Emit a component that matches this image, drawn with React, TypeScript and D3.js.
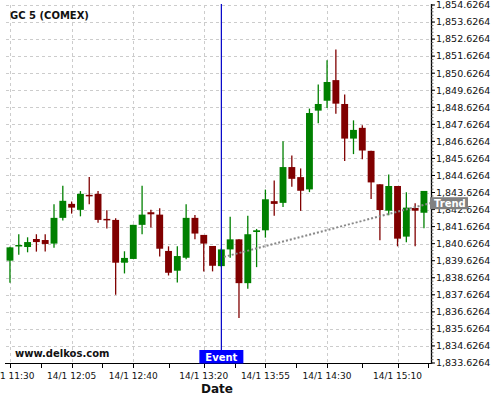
import React from "react";
import * as d3 from "d3";

// ---- data ----
const startTime = "2022-01-14T11:30:00";
const candleMinutes = 5;
const opens = [1839.63,1840.51,1840.43,1840.90,1840.84,1840.63,1842.14,1842.96,1842.61,1843.49,1843.55,1842.08,1842.02,1839.51,1839.73,1841.73,1842.47,1842.33,1840.20,1839.04,1839.80,1842.14,1841.14,1840.49,1839.31,1840.29,1840.88,1838.31,1841.31,1841.41,1843.12,1843.02,1845.12,1844.53,1843.81,1848.43,1849.01,1850.22,1848.82,1846.79,1847.42,1846.07,1844.11,1842.56,1844.01,1841.04,1842.72,1842.44];
const highs = [1840.45,1841.18,1841.00,1841.18,1841.18,1842.94,1844.02,1843.10,1843.71,1844.53,1843.71,1842.59,1842.12,1840.18,1841.73,1844.02,1842.61,1842.71,1840.47,1840.47,1842.94,1842.31,1841.14,1840.49,1840.35,1842.21,1840.88,1842.27,1841.49,1843.80,1844.33,1846.63,1845.80,1845.04,1848.55,1849.97,1851.39,1852.02,1849.38,1847.86,1847.57,1846.07,1844.11,1844.68,1844.01,1843.64,1843.00,1843.72];
const lows = [1838.33,1839.98,1840.12,1840.16,1840.16,1840.39,1841.98,1842.39,1842.23,1842.94,1841.86,1841.51,1837.63,1838.88,1839.73,1841.18,1841.57,1839.88,1838.76,1838.35,1839.71,1840.88,1839.00,1839.00,1839.25,1839.80,1836.27,1837.98,1839.25,1840.98,1842.27,1842.78,1843.96,1842.55,1843.65,1847.69,1848.59,1848.25,1845.47,1845.88,1845.58,1843.24,1840.83,1842.29,1840.47,1840.71,1840.47,1841.53];
const closes = [1840.41,1840.55,1840.72,1840.72,1840.61,1842.14,1843.14,1842.74,1843.55,1843.45,1842.02,1842.04,1839.51,1839.79,1841.73,1842.33,1842.35,1840.33,1838.92,1839.90,1842.14,1841.22,1840.63,1839.33,1840.29,1840.88,1838.31,1841.18,1841.41,1843.23,1842.96,1845.12,1844.43,1843.73,1848.29,1848.82,1850.11,1848.84,1846.79,1847.30,1846.09,1844.22,1842.60,1844.01,1840.92,1842.74,1842.56,1843.72];

const xTickTimes = ["11:30","12:05","12:40","13:20","13:55","14:30","15:10"];
const xTickLabels = ["14/1 11:30","14/1 12:05","14/1 12:40","14/1 13:20","14/1 13:55","14/1 14:30","14/1 15:10"];
const yTickValues = [1833.6264,1834.6264,1835.6264,1836.6264,1837.6264,1838.6264,1839.6264,1840.6264,1841.6264,1842.6264,1843.6264,1844.6264,1845.6264,1846.6264,1847.6264,1848.6264,1849.6264,1850.6264,1851.6264,1852.6264,1853.6264,1854.6264];
const yDomain = [1833.6264, 1854.6264];
const xDomainMinutes = [-2.25, 239]; // minutes from start
const eventTime = "13:30";
const eventLabel = "Event";
const trendTimes = ["13:31:30", "15:28:30"];
const trendValues = [1839.85, 1843.0];
const trendLabel = "Trend";
const title = "GC 5 (COMEX)";
const watermark = "www.delkos.com";
const xAxisTitle = "Date";

const base = new Date(startTime);
const atMin = (m: number) => new Date(base.getTime() + m * 60000);
const atClock = (s: string) => {
  const [h, m, sec] = s.split(":").map(Number);
  const d = new Date(base);
  d.setHours(h, m, sec || 0, 0);
  return d;
};

const L = 6, R = 431, T = 5, B = 363;
const FONT = "'DejaVu Sans', sans-serif";

export default function App() {
  const x = d3.scaleTime().domain([atMin(xDomainMinutes[0]), atMin(xDomainMinutes[1])]).range([L, R]);
  const y = d3.scaleLinear().domain(yDomain).range([B, T]);

  const candles = opens.map((o, i) => ({
    t: atMin(i * candleMinutes), o, h: highs[i], l: lows[i], c: closes[i],
  }));
  const step = x(atMin(candleMinutes)) - x(atMin(0));
  const bw = step * 0.78;

  const majorX = xTickTimes.map(atClock);
  const minorX: Date[] = [];
  for (let i = 0; i < majorX.length - 1; i++) {
    minorX.push(new Date((majorX[i].getTime() + majorX[i + 1].getTime()) / 2));
  }
  minorX.push(new Date(majorX[majorX.length - 1].getTime() + 17.5 * 60000));

  const minorY: number[] = [];
  for (let v = yDomain[0]; v <= yDomain[1] + 1e-6; v += 0.2) minorY.push(v);

  const ex = x(atClock(eventTime));
  const tx0 = x(atClock(trendTimes[0])), tx1 = x(atClock(trendTimes[1]));
  const ty0 = y(trendValues[0]), ty1 = y(trendValues[1]);

  const grid = "#cccccc";
  return (
    <svg width={500} height={400} style={{ position: "absolute", left: 0, top: 0, background: "#fff" }} fontFamily={FONT}>
      <rect x={0} y={0} width={500} height={400} fill="#fff" />
      {/* grid */}
      {yTickValues.slice(1).map((v, i) => (
        <line key={"gy" + i} x1={L} x2={R} y1={Math.round(y(v)) + 0.5} y2={Math.round(y(v)) + 0.5} stroke={grid} strokeDasharray="3,3" />
      ))}
      {majorX.map((d, i) => (
        <line key={"gx" + i} x1={Math.round(x(d)) + 0.5} x2={Math.round(x(d)) + 0.5} y1={T} y2={B} stroke={grid} strokeDasharray="3,3" />
      ))}
      {/* title */}
      <text x={10} y={19} fontSize={10} fontWeight="bold" fill="#111">{title}</text>
      {/* candles */}
      {candles.map((k, i) => {
        const cx = x(k.t);
        const up = k.c >= k.o;
        const col = up ? "#008000" : "#800000";
        const top = y(Math.max(k.o, k.c));
        const bot = y(Math.min(k.o, k.c));
        return (
          <g key={"c" + i}>
            <line x1={cx} x2={cx} y1={y(k.h)} y2={y(k.l)} stroke={col} strokeWidth={1.3} />
            <rect x={cx - bw / 2} y={top} width={bw} height={Math.max(bot - top, 1.5)} fill={col} />
          </g>
        );
      })}
      {/* trend */}
      <line x1={tx0} y1={ty0} x2={tx1} y2={ty1} stroke="#888" strokeWidth={2} strokeDasharray="2,2" />
      {/* event line */}
      <line x1={ex} x2={ex} y1={T - 1} y2={B} stroke="#0000c8" strokeWidth={1.2} />
      {/* x axis */}
      <line x1={L - 1} x2={R} y1={B + 0.5} y2={B + 0.5} stroke="#000" />
      {majorX.map((d, i) => (
        <g key={"xt" + i}>
          <line x1={Math.round(x(d)) + 0.5} x2={Math.round(x(d)) + 0.5} y1={B} y2={B + 5} stroke="#000" />
          <text x={x(d)} y={379} fontSize={9} textAnchor="middle" fill="#111">{xTickLabels[i]}</text>
        </g>
      ))}
      {minorX.map((d, i) => (
        <line key={"xm" + i} x1={Math.round(x(d)) + 0.5} x2={Math.round(x(d)) + 0.5} y1={B} y2={B + 5} stroke="#000" />
      ))}
      <text x={217} y={393} fontSize={12} fontWeight="bold" textAnchor="middle" fill="#111">{xAxisTitle}</text>
      {/* y axis (right) */}
      <line x1={R + 0.5} x2={R + 0.5} y1={T - 1} y2={B + 1} stroke="#000" strokeWidth={1.3} />
      {minorY.map((v, i) => (
        <line key={"ym" + i} x1={R} x2={R + 2.5} y1={y(v)} y2={y(v)} stroke="#555" strokeWidth={0.8} />
      ))}
      {yTickValues.map((v, i) => (
        <g key={"yt" + i}>
          <line x1={R} x2={R + 4} y1={y(v)} y2={y(v)} stroke="#000" />
          <text x={436} y={y(v)} dy="0.35em" fontSize={9.5} fill="#111">{d3.format(",.4f")(v)}</text>
        </g>
      ))}
      {/* watermark */}
      <text x={15} y={357} fontSize={10} fontWeight="bold" fill="#111">{watermark}</text>
      {/* event label */}
      <rect x={ex - 22} y={350} width={44} height={13.5} fill="#0000ff" />
      <text x={ex} y={360.5} fontSize={10} fontWeight="bold" fill="#fff" textAnchor="middle">{eventLabel}</text>
      {/* trend label */}
      <rect x={R - 1} y={ty1 - 6} width={38} height={12} fill="#808080" />
      <text x={R + 3} y={ty1 + 3.8} fontSize={10} fontWeight="bold" fill="#fff">{trendLabel}</text>
    </svg>
  );
}
